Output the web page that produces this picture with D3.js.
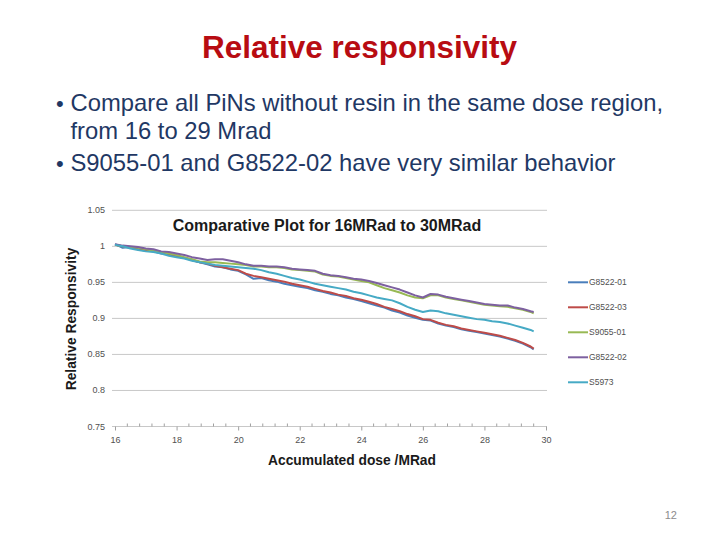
<!DOCTYPE html>
<html><head><meta charset="utf-8">
<script src="https://cdn.jsdelivr.net/npm/d3@7"></script>
<style>body{margin:0;background:#fff}svg{display:block;font-family:"Liberation Sans",Arial,sans-serif}</style>
</head><body>
<svg id="c" width="720" height="540"></svg>
<script>
const doses = [16.00,16.25,16.50,16.75,17.00,17.25,17.50,17.75,18.00,18.25,18.50,18.75,19.00,19.25,19.50,19.75,20.00,20.25,20.50,20.75,21.00,21.25,21.50,21.75,22.00,22.25,22.50,22.75,23.00,23.25,23.50,23.75,24.00,24.25,24.50,24.75,25.00,25.25,25.50,25.75,26.00,26.25,26.50,26.75,27.00,27.25,27.50,27.75,28.00,28.25,28.50,28.75,29.00,29.25,29.50,29.60];
const seriesNames = ["G8522-01","G8522-03","S9055-01","G8522-02","S5973"];
const g8522_01 = [1.003,0.998,0.999,0.996,0.994,0.993,0.990,0.989,0.986,0.984,0.981,0.978,0.975,0.972,0.971,0.968,0.966,0.961,0.955,0.956,0.953,0.951,0.948,0.946,0.944,0.942,0.939,0.937,0.934,0.932,0.929,0.927,0.924,0.921,0.918,0.915,0.911,0.908,0.904,0.901,0.898,0.897,0.893,0.890,0.888,0.885,0.883,0.881,0.879,0.877,0.875,0.872,0.869,0.865,0.860,0.857];
const g8522_03 = [1.002,1.000,0.998,0.996,0.995,0.993,0.992,0.989,0.986,0.984,0.981,0.978,0.976,0.973,0.971,0.969,0.967,0.962,0.959,0.957,0.955,0.953,0.951,0.948,0.946,0.944,0.941,0.938,0.936,0.933,0.931,0.928,0.926,0.923,0.920,0.916,0.913,0.910,0.906,0.903,0.899,0.898,0.894,0.891,0.889,0.886,0.884,0.882,0.880,0.878,0.876,0.873,0.870,0.866,0.861,0.858];
const s9055_01 = [1.002,1.000,0.999,0.998,0.996,0.994,0.992,0.990,0.988,0.985,0.982,0.979,0.978,0.978,0.977,0.976,0.975,0.974,0.972,0.972,0.971,0.971,0.970,0.968,0.967,0.966,0.965,0.961,0.959,0.958,0.956,0.954,0.952,0.950,0.946,0.942,0.939,0.936,0.932,0.929,0.928,0.932,0.932,0.929,0.927,0.925,0.923,0.921,0.919,0.918,0.917,0.916,0.914,0.912,0.909,0.907];
const g8522_02 = [1.003,1.001,1.000,0.999,0.997,0.996,0.993,0.992,0.990,0.988,0.985,0.983,0.981,0.982,0.982,0.980,0.978,0.975,0.973,0.973,0.972,0.972,0.971,0.969,0.968,0.967,0.966,0.962,0.960,0.959,0.957,0.955,0.954,0.952,0.949,0.946,0.943,0.940,0.936,0.932,0.929,0.934,0.933,0.930,0.928,0.926,0.924,0.922,0.920,0.919,0.918,0.918,0.915,0.913,0.910,0.909];
const s5973 = [1.002,1.000,0.997,0.995,0.993,0.992,0.990,0.987,0.985,0.983,0.980,0.978,0.976,0.974,0.973,0.972,0.971,0.970,0.969,0.967,0.964,0.962,0.959,0.956,0.954,0.951,0.948,0.946,0.944,0.942,0.940,0.937,0.935,0.932,0.929,0.927,0.925,0.921,0.916,0.912,0.909,0.911,0.910,0.907,0.905,0.903,0.901,0.899,0.898,0.896,0.895,0.893,0.890,0.887,0.884,0.882];
const seriesValues = [g8522_01, g8522_03, s9055_01, g8522_02, s5973];
const colors = ["#4a7ebb","#be4b48","#98b954","#7d60a0","#46aac5"];
const yTicks = [0.75,0.8,0.85,0.9,0.95,1,1.05];
const xTicks = [16,18,20,22,24,26,28,30];
const bullets = [
  ["Compare all PiNs without resin in the same dose region,","from 16 to 29 Mrad"],
  ["S9055-01 and G8522-02 have very similar behavior"]
];

const svg = d3.select("#c");
// slide title
svg.append("text").attr("x",359.5).attr("y",57.5).attr("text-anchor","middle")
  .attr("font-size",31.5).attr("font-weight","bold").attr("fill","#b80c12").text("Relative responsivity");
// bullets
const baselines = [[111,139],[171]];
bullets.forEach((lines,b)=>{
  svg.append("text").attr("x",56).attr("y",baselines[b][0]).attr("font-size",22).attr("fill","#1f3864").text("•");
  lines.forEach((ln,i)=>{
    svg.append("text").attr("x",70.5).attr("y",baselines[b][i]).attr("font-size",23.8).attr("fill","#1f3864").text(ln);
  });
});
svg.append("text").attr("x",677).attr("y",519).attr("text-anchor","end").attr("font-size",11).attr("fill","#8c8c8c").text("12");

// chart
const x = d3.scaleLinear().domain([16,30]).range([115,546]);
const y = d3.scaleLinear().domain([0.75,1.05]).range([426.5,210.3]);
const g = svg.append("g");
g.selectAll("line.grid").data(yTicks).join("line")
  .attr("x1",112).attr("x2",547).attr("y1",d=>y(d)).attr("y2",d=>y(d))
  .attr("stroke","#c8c8c8").attr("stroke-width",1);
g.selectAll("text.yl").data(yTicks).join("text")
  .attr("x",105).attr("y",d=>y(d)+3).attr("text-anchor","end")
  .attr("font-size",9).attr("fill","#505050").text(d=>d3.format("")(d));
const xa = d3.axisBottom(x).tickValues(xTicks).tickSize(4).tickFormat(d3.format("d"));
const gx = g.append("g").attr("transform",`translate(0,${y(0.75)})`).call(xa);
gx.select(".domain").remove();
gx.selectAll(".tick line").attr("stroke","#a0a0a0");
gx.selectAll(".tick text").attr("font-size",9).attr("fill","#505050").attr("dy","1.1em").attr("font-family","Liberation Sans, Arial");
const minor = d3.range(0,36).map(i=>16+i*0.4).filter(v=>v<=30.01 && Math.abs(v/2-Math.round(v/2))>0.01);
g.selectAll("line.minor").data(minor).join("line")
  .attr("x1",d=>x(d)).attr("x2",d=>x(d)).attr("y1",y(0.75)-3).attr("y2",y(0.75))
  .attr("stroke","#a0a0a0");

const line = d3.line().x((d,i)=>x(doses[i])).y(d=>y(d));
seriesValues.forEach((vals,k)=>{
  g.append("path").datum(vals).attr("d",line).attr("fill","none")
   .attr("stroke",colors[k]).attr("stroke-width",2).attr("stroke-linejoin","round");
});

svg.append("text").attr("x",327).attr("y",231).attr("text-anchor","middle")
  .attr("font-size",16).attr("font-weight","bold").attr("fill","#1a1a1a").text("Comparative Plot for 16MRad to 30MRad");
svg.append("text").attr("transform","translate(76,319) rotate(-90)").attr("text-anchor","middle")
  .attr("font-size",13.8).attr("font-weight","bold").attr("fill","#1a1a1a").text("Relative Responsivity");
svg.append("text").attr("x",352).attr("y",465).attr("text-anchor","middle")
  .attr("font-size",13.8).attr("font-weight","bold").attr("fill","#1a1a1a").text("Accumulated dose /MRad");

const lg = svg.append("g");
const ly = d3.scalePoint().domain(seriesNames).range([282.3,382.3]);
seriesNames.forEach((n,k)=>{
  lg.append("line").attr("x1",568).attr("x2",588).attr("y1",ly(n)).attr("y2",ly(n))
    .attr("stroke",colors[k]).attr("stroke-width",2);
  lg.append("text").attr("x",589).attr("y",ly(n)+3).attr("font-size",8.5).attr("fill","#505050").text(n);
});
</script>
</body></html>
